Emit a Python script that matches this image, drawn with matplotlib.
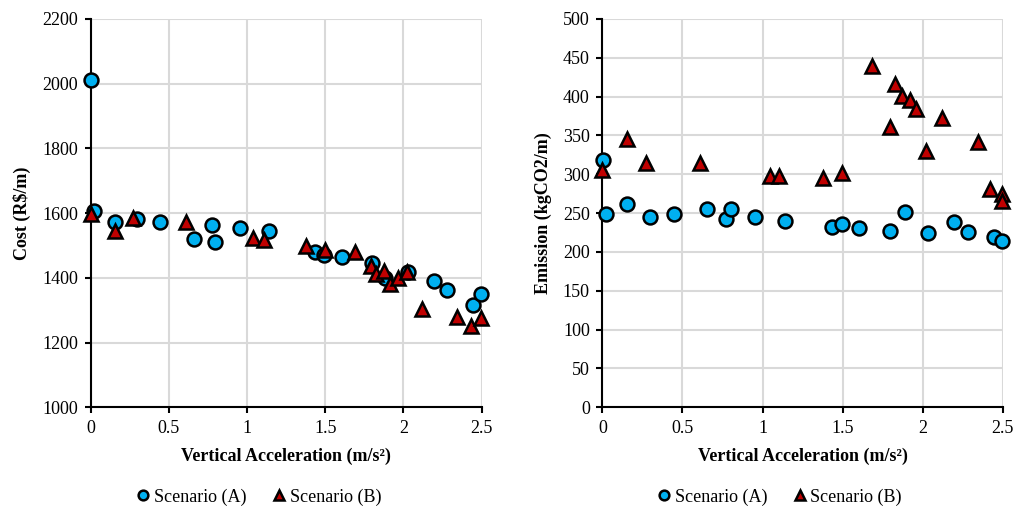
import matplotlib

matplotlib.use('Agg')
import matplotlib.pyplot as plt
from matplotlib.lines import Line2D

plt.rcParams['font.family'] = ['Liberation Serif', 'DejaVu Serif']
plt.rcParams['mathtext.fontset'] = 'stix'

# Cost chart (left)
cost_a_x = [0.004, 0.02, 0.158, 0.294, 0.441, 0.663, 0.774, 0.795, 0.957, 1.14,
            1.437, 1.494, 1.607, 1.797, 1.88, 2.027, 2.197, 2.276, 2.447, 2.496]
cost_a_y = [2010, 1608, 1573, 1581, 1573, 1519, 1564, 1511, 1553, 1546,
            1480, 1472, 1465, 1447, 1400, 1419, 1391, 1361, 1317, 1349]
cost_b_x = [0.0, 0.158, 0.273, 0.612, 1.038, 1.106, 1.377, 1.50, 1.69, 1.79,
            1.822, 1.876, 1.916, 1.967, 2.02, 2.116, 2.34, 2.43, 2.496]
cost_b_y = [1596, 1545, 1584, 1574, 1523, 1517, 1499, 1486, 1480, 1437,
            1411, 1421, 1380, 1398, 1418, 1305, 1279, 1251, 1277]

# Emission chart (right)
emis_a_x = [0.006, 0.023, 0.156, 0.298, 0.445, 0.656, 0.77, 0.80, 0.951, 1.14,
            1.436, 1.495, 1.60, 1.798, 1.89, 2.03, 2.196, 2.28, 2.446, 2.496]
emis_a_y = [319, 248.5, 261.5, 245, 248.5, 255, 243, 255, 245, 240,
            232, 236, 230.5, 227.5, 251.5, 224.5, 239, 226, 219, 214.5]
emis_b_x = [0.0, 0.154, 0.273, 0.608, 1.045, 1.10, 1.38, 1.499, 1.686, 1.797,
            1.824, 1.871, 1.921, 1.958, 2.023, 2.117, 2.342, 2.42, 2.496, 2.496]
emis_b_y = [306, 345, 315, 314, 298, 298, 295, 302, 439, 361,
            416, 401, 396, 384, 330, 373, 341, 281, 275, 265]

series_labels = ['Scenario (A)', 'Scenario (B)']
blue = '#00b0f0'
red = '#c00000'

fig = plt.figure(figsize=(10.27, 5.14), dpi=100)
ax1 = fig.add_axes([0.0883, 0.2076, 0.3807, 0.7555])
ax2 = fig.add_axes([0.5865, 0.2076, 0.3900, 0.7555])


def style_axis(ax, ylim, ystep, ylabel):
    ax.set_xlim(0, 2.5)
    ax.set_ylim(*ylim)
    ax.set_xticks([0, 0.5, 1, 1.5, 2, 2.5])
    ax.set_xticklabels(['0', '0.5', '1', '1.5', '2', '2.5'])
    ax.set_yticks(range(ylim[0], ylim[1] + 1, ystep))
    ax.grid(True, color='#d9d9d9', linewidth=1.5, zorder=0)
    ax.set_axisbelow(True)
    for s in ['top', 'right']:
        ax.spines[s].set_visible(False)
    for s in ['left', 'bottom']:
        ax.spines[s].set_linewidth(1.5)
        ax.spines[s].set_zorder(1)
    ax.tick_params(direction='out', length=4, width=1.5, labelsize=13, pad=5)
    ax.set_xlabel('Vertical Acceleration (m/s²)', fontsize=13, fontweight='bold', labelpad=8)
    ax.set_ylabel(ylabel, fontsize=13, fontweight='bold', labelpad=8)


def scatter_pair(ax, ax_x, ax_y, bx, by):
    ax.plot(ax_x, ax_y, 'o', ms=10, mfc=blue, mec='black', mew=1.8, zorder=3, clip_on=False)
    ax.plot(bx, by, '^', ms=10, mfc=red, mec='black', mew=1.8, zorder=4, clip_on=False)


scatter_pair(ax1, cost_a_x, cost_a_y, cost_b_x, cost_b_y)
style_axis(ax1, (1000, 2200), 200, 'Cost (R$/m)')

scatter_pair(ax2, emis_a_x, emis_a_y, emis_b_x, emis_b_y)
style_axis(ax2, (0, 500), 50, 'Emission (kgCO2/m)')

handles = [
    Line2D([], [], marker='o', ls='none', ms=7, mfc=blue, mec='black', mew=1.8),
    Line2D([], [], marker='^', ls='none', ms=7, mfc=red, mec='black', mew=1.8),
]
for cx in [0.25, 0.757]:
    fig.legend(handles, series_labels, loc='center', bbox_to_anchor=(cx, 0.033),
               ncol=2, frameon=False, fontsize=13, handletextpad=0.0,
               columnspacing=1.2, handlelength=1.2)

fig.savefig('out.png', dpi=100)
